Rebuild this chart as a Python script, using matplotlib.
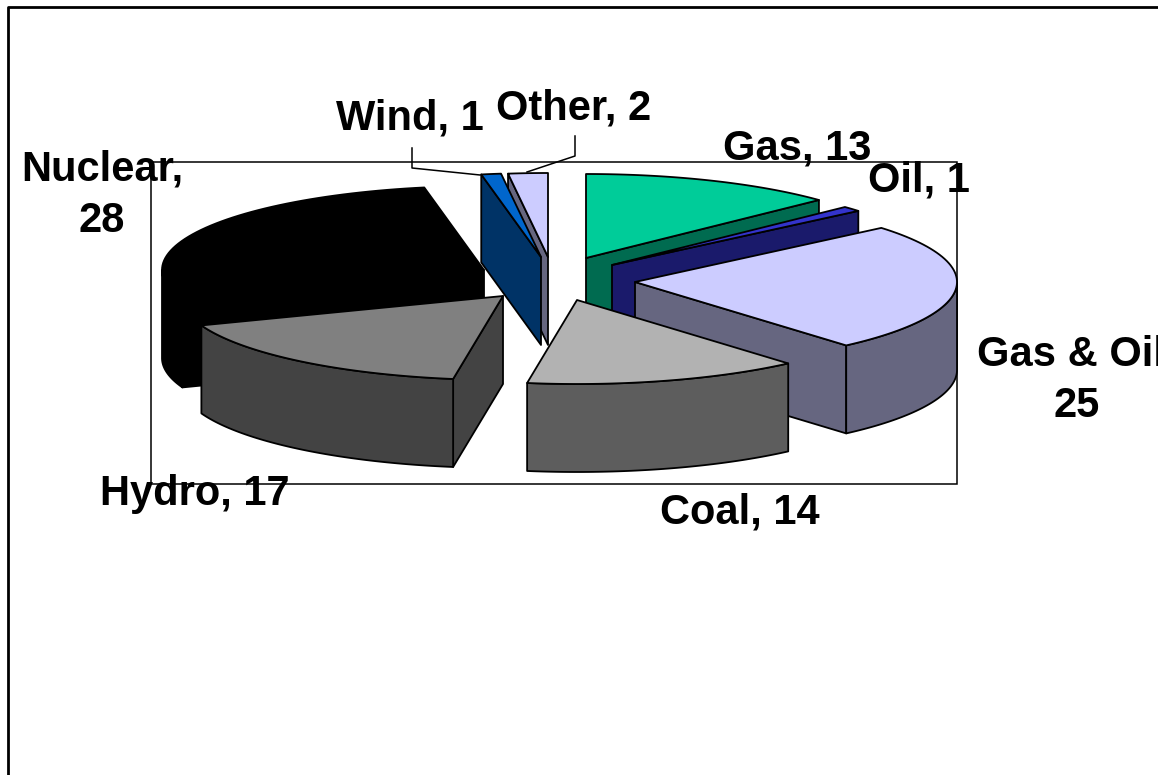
import numpy as np
import matplotlib
matplotlib.use('Agg')
import matplotlib.pyplot as plt
from matplotlib.patches import Polygon, Rectangle

names = ['Gas', 'Oil', 'Gas & Oil', 'Coal', 'Hydro', 'Nuclear', 'Wind', 'Other']
values = [13, 1, 25, 14, 17, 28, 1, 2]

# colours of the top of each slice and of its sides
top_colors = ['#00CC99', '#3333CC', '#CCCCFF', '#B2B2B2', '#808080', '#000000', '#0066CC', '#CCCCFF']
side_colors = ['#006B50', '#1A1A6B', '#666680', '#5D5D5D', '#434343', '#000000', '#003366', '#666680']

# where each exploded slice has its tip, in pixels
tips = [(586, 258), (612, 265), (635, 282), (577, 300), (503, 296), (484, 270), (541, 257), (548, 257)]
# back to front
order = [0, 1, 2, 5, 7, 6, 4, 3]

rx, ry = 322, 84
depth = 88


def rim(tip, a1, a2, n=60):
    t = np.radians(np.linspace(a1, a2, n))
    return np.column_stack([tip[0] + rx*np.sin(t), tip[1] - ry*np.cos(t)])


fig = plt.figure(figsize=(11.58, 7.75), dpi=100)
ax = fig.add_axes([0, 0, 1, 1])
ax.set_xlim(0, 1158)
ax.set_ylim(775, 0)
ax.axis('off')

# outer frame, runs off the right and bottom
ax.plot([8, 8, 1158], [775, 7, 7], color='black', lw=2, solid_capstyle='butt', zorder=1)
# plot area
ax.add_patch(Rectangle((151, 162), 806, 322, fill=False, ec='black', lw=1.1, zorder=1))

angles = np.concatenate([[0], np.cumsum(values)]) * 360.0 / sum(values)
z = 2
for i in order:
    a1, a2 = angles[i], angles[i+1]
    tip = np.array(tips[i], dtype=float)
    down = np.array([0, depth])
    line = dict(ec='black', lw=1.3, joinstyle='round')
    # flat cut faces, only those turned toward the viewer
    if np.sin(np.radians(a1)) < 0:
        p = rim(tip, a1, a1, 1)[0]
        ax.add_patch(Polygon([tip, p, p+down, tip+down], fc=side_colors[i], zorder=z, **line))
    if np.sin(np.radians(a2)) > 0:
        p = rim(tip, a2, a2, 1)[0]
        ax.add_patch(Polygon([tip, p, p+down, tip+down], fc=side_colors[i], zorder=z, **line))
    # curved wall on the front half
    lo, hi = max(a1, 90), min(a2, 270)
    if lo < hi:
        arc = rim(tip, lo, hi)
        ax.add_patch(Polygon(np.vstack([arc, arc[::-1]+down]), fc=side_colors[i], zorder=z, **line))
    ax.add_patch(Polygon(np.vstack([[tip], rim(tip, a1, a2)]), fc=top_colors[i], zorder=z, **line))
    z += 1

# leader lines for the two small slices
ax.plot([412, 412, 480], [148, 168, 175], color='black', lw=1.1, zorder=20)
ax.plot([575, 575, 527], [136, 156, 172], color='black', lw=1.1, zorder=20)

label_pos = [(797, 148), (919, 181), (1077, 380), (740, 512), (195, 494), (102, 195), (410, 119), (574, 108)]
for name, v, pos in zip(names, values, label_pos):
    if name in ('Gas & Oil', 'Nuclear'):
        s = f'{name},\n{v}'
    else:
        s = f'{name}, {v}'
    ax.text(pos[0], pos[1], s, ha='center', va='center', family='Liberation Sans',
            fontweight='bold', fontsize=30, linespacing=1.38, zorder=30, clip_on=False)

fig.savefig('out.png', dpi=100)
